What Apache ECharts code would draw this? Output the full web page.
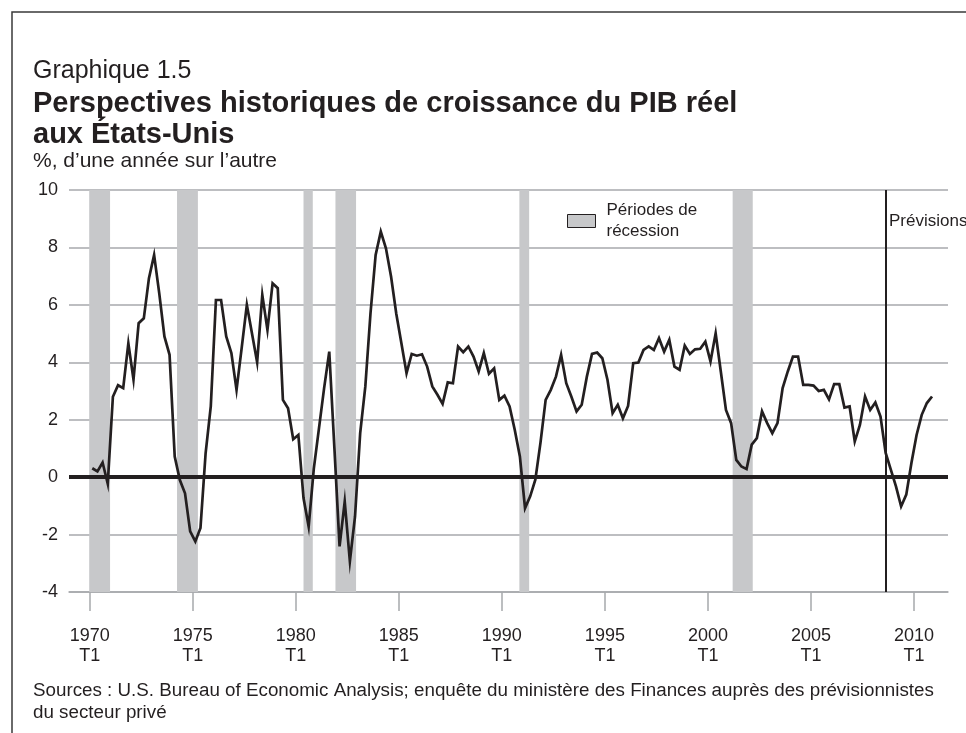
<!DOCTYPE html>
<html>
<head>
<meta charset="utf-8">
<script src="https://cdn.jsdelivr.net/npm/echarts@6/dist/echarts.min.js"></script>
<style>
html,body{margin:0;padding:0;background:#fff;}
#chart{width:966px;height:733px;}
</style>
</head>
<body>
<div id="chart"></div>
<script>
// Quarterly real GDP growth, % y/y, 1970 T1 .. 2010 T4 (quarter index 0..163)
const startYear = 1970;
const gdpGrowth = [
  0.31, 0.2, 0.51, -0.23, 2.8, 3.2, 3.1, 4.66, 3.4, 5.36,
  5.53, 6.93, 7.74, 6.4, 4.9, 4.26, 0.72, -0.1, -0.56, -1.89,
  -2.24, -1.77, 0.84, 2.46, 6.17, 6.17, 4.9, 4.32, 3.04, 4.5,
  6.0, 5.0, 4.0, 6.35, 5.13, 6.75, 6.58, 2.69, 2.4, 1.32,
  1.47, -0.73, -1.72, 0.3, 1.7, 3.1, 4.37, 1.0, -2.41, -0.85,
  -2.93, -1.37, 1.53, 3.16, 5.7, 7.74, 8.55, 7.97, 6.98, 5.7,
  4.66, 3.62, 4.29, 4.23, 4.28, 3.85, 3.16, 2.87, 2.55, 3.3,
  3.27, 4.55, 4.35, 4.55, 4.2, 3.68, 4.32, 3.6, 3.79, 2.69,
  2.84, 2.46, 1.65, 0.72, -1.08, -0.67, -0.09, 1.2, 2.69, 3.04,
  3.5, 4.26, 3.27, 2.8, 2.29, 2.52, 3.5, 4.29, 4.34, 4.14,
  3.39, 2.23, 2.52, 2.05, 2.48, 3.97, 3.99, 4.43, 4.55, 4.43,
  4.84, 4.37, 4.78, 3.85, 3.74, 4.58, 4.29, 4.45, 4.47, 4.72,
  4.03, 5.01, 3.68, 2.34, 1.88, 0.6, 0.37, 0.28, 1.13, 1.36,
  2.29, 1.88, 1.53, 1.88, 3.1, 3.68, 4.2, 4.2, 3.21, 3.21,
  3.19, 3.0, 3.04, 2.71, 3.24, 3.24, 2.42, 2.46, 1.24, 1.82,
  2.81, 2.34, 2.6, 2.11, 0.84, 0.26, -0.32, -1.02, -0.61, 0.49,
  1.47, 2.17, 2.58, 2.81
];
// Recession periods, in quarter index units (start, end)
const recessions = [
  [-0.6, 3.45], [16.45, 20.5], [41.0, 42.8], [47.2, 51.2], [82.9, 84.8], [124.3, 128.2]
];
// Forecast starts at 2008 T3
const forecastStart = 154;
// Tick labels (every 5 years, first quarter)
const tickYears = ['1970','1975','1980','1985','1990','1995','2000','2005','2010'];
const tickQuarter = 'T1';

const ink = '#231f20';
const gridGray = '#a7a9ac';
const font = '"Liberation Sans", Arial, Helvetica, sans-serif';

const seriesData = gdpGrowth.map((v, i) => [i, v]);
const tickPos = tickYears.map((y, i) => i * 20 - 0.5);

const chart = echarts.init(document.getElementById('chart'), null, {renderer: 'canvas'});
chart.setOption({
  animation: false,
  backgroundColor: '#fff',
  textStyle: {fontFamily: font, color: ink},
  title: [
    {text: 'Graphique 1.5', left: 33, top: 57, padding: 0,
     textStyle: {fontFamily: font, fontSize: 25, fontWeight: 'normal', color: ink, lineHeight: 28}},
    {text: 'Perspectives historiques de croissance du PIB réel\naux États-Unis', left: 33, top: 88, padding: 0,
     textStyle: {fontFamily: font, fontSize: 29, fontWeight: 'bold', color: ink, lineHeight: 31}},
    {text: '%, d\u2019une année sur l\u2019autre', left: 33, top: 149, padding: 0,
     textStyle: {fontFamily: font, fontSize: 21, fontWeight: 'normal', color: ink, lineHeight: 24}},
    {text: 'Sources : U.S. Bureau of Economic Analysis; enquête du ministère des Finances auprès des prévisionnistes\ndu secteur privé',
     left: 33, top: 680, padding: 0,
     textStyle: {fontFamily: font, fontSize: 18.8, fontWeight: 'normal', color: ink, lineHeight: 22}},
    {text: 'Prévisions', left: 889, top: 211, padding: 0,
     textStyle: {fontFamily: font, fontSize: 17, fontWeight: 'normal', color: ink, lineHeight: 20}}
  ],
  graphic: [
    {type: 'rect', shape: {x: 12, y: 12, width: 1200, height: 1200}, silent: true,
     style: {fill: 'none', stroke: '#3a3a3a', lineWidth: 1.5}}
  ],
  legend: {
    left: 567, top: 200, padding: 0,
    itemWidth: 28, itemHeight: 13, itemGap: 10,
    selectedMode: false,
    textStyle: {fontFamily: font, fontSize: 17, color: ink, lineHeight: 21, padding: [0, 0, 0, 6]},
    data: [{name: 'Périodes de\nrécession', icon: 'rect',
            itemStyle: {color: '#c7c8ca', borderColor: ink, borderWidth: 1}}]
  },
  grid: {left: 69, right: 18, top: 190, bottom: 141, containLabel: false},
  xAxis: {
    type: 'value', min: -4.52, max: 166.1,
    splitLine: {show: false},
    axisLine: {show: true, onZero: false, lineStyle: {color: gridGray, width: 1.5}},
    axisTick: {show: true, length: 19, customValues: tickPos, lineStyle: {color: gridGray, width: 1.5}},
    axisLabel: {
      customValues: tickPos, margin: 34, fontSize: 18, fontFamily: font, color: ink, lineHeight: 20,
      formatter: v => tickYears[Math.round((v + 0.5) / 20)] + '\n' + tickQuarter
    }
  },
  yAxis: {
    type: 'value', min: -4, max: 10, interval: 2,
    axisLine: {show: false}, axisTick: {show: false},
    axisLabel: {margin: 11, fontSize: 18, fontFamily: font, color: ink},
    splitLine: {show: true, lineStyle: {color: gridGray, width: 1.5}}
  },
  series: [
    {
      name: 'Périodes de\nrécession', type: 'line', data: [], z: 1,
      itemStyle: {color: '#c7c8ca'},
      markArea: {
        silent: true,
        itemStyle: {color: '#c7c8ca', opacity: 1},
        data: recessions.map(r => [{xAxis: r[0]}, {xAxis: r[1]}])
      }
    },
    {
      name: 'PIB', type: 'line', data: seriesData, z: 3,
      showSymbol: false, symbol: 'none',
      lineStyle: {color: ink, width: 2.7, join: 'miter'},
      itemStyle: {color: ink},
      markLine: {
        silent: true, symbol: 'none', label: {show: false},
        data: [
          {yAxis: 0, lineStyle: {color: ink, width: 4, type: 'solid'}},
          {xAxis: forecastStart, lineStyle: {color: ink, width: 2, type: 'solid'}}
        ]
      }
    }
  ]
});
</script>
</body>
</html>
